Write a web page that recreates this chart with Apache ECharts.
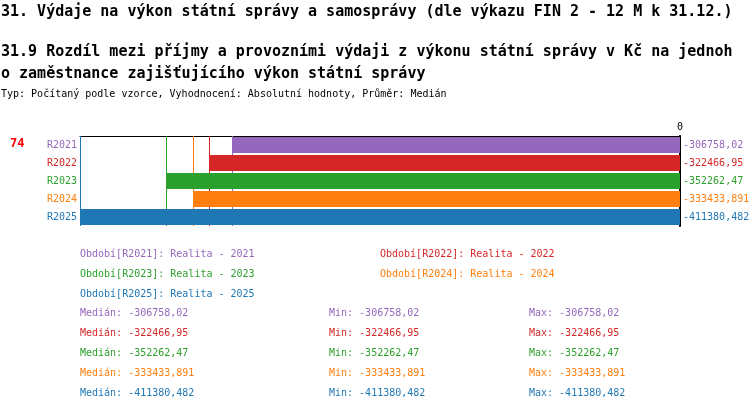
<!DOCTYPE html>
<html>
<head>
<meta charset="utf-8">
<script src="https://cdn.jsdelivr.net/npm/echarts@6/dist/echarts.min.js"></script>
<style>
html,body{margin:0;padding:0;background:#fff;}
#chart{width:750px;height:412px;}
</style>
</head>
<body>
<div id="chart"></div>
<script>
var years = ['R2021', 'R2022', 'R2023', 'R2024', 'R2025'];
var yearNames = ['2021', '2022', '2023', '2024', '2025'];
var values = [-306758.02, -322466.95, -352262.47, -333433.891, -411380.482];
var medians = [-306758.02, -322466.95, -352262.47, -333433.891, -411380.482];
var mins = [-306758.02, -322466.95, -352262.47, -333433.891, -411380.482];
var maxs = [-306758.02, -322466.95, -352262.47, -333433.891, -411380.482];
var colors = ['#9467bd', '#d62728', '#2ca02c', '#ff7f0e', '#1f77b4'];

var FONT = 'DejaVu Sans Mono';

function fmt(v){
	return String(v).replace('.', ',');
}

var chart = echarts.init(document.getElementById('chart'));

var series = [];
var legends = [];
var legendPos = [[75, 248], [375, 248], [75, 268], [375, 268], [75, 288]];
var graphics = [];

for (var i = 0; i < years.length; i++) {
	var d = [];
	for (var j = 0; j < years.length; j++) {
		d.push(i == j ? values[i] : '-');
	}
	series.push({
		name: years[i],
		type: 'bar',
		stack: 'all',
		barWidth: 16,
		z: 2,
		itemStyle: {color: colors[i]},
		label: {
			show: true,
			position: 'right',
			distance: 3,
			color: colors[i],
			fontFamily: FONT,
			fontSize: 10,
			formatter: function(p){ return fmt(p.value); }
		},
		markLine: {
			silent: true,
			z: 1,
			symbol: 'none',
			label: {show: false},
			emphasis: {disabled: true},
			lineStyle: {color: colors[i], type: 'solid', width: 1, opacity: 1},
			data: [{xAxis: values[i]}]
		},
		data: d
	});
	legends.push({
		left: legendPos[i][0],
		top: legendPos[i][1],
		padding: 0,
		itemWidth: 0,
		itemHeight: 0,
		selectedMode: false,
		textStyle: {fontFamily: FONT, fontSize: 10, color: colors[i], lineHeight: 12},
		formatter: (function(k){ return function(name){ return 'Období[' + name + ']: Realita - ' + yearNames[k]; }; })(i),
		data: [{name: years[i], textStyle: {color: colors[i]}}]
	});
	// statistiky
	var y = 314 + i * 20;
	var cols = [[80, 'Medián: ', medians[i]], [329, 'Min: ', mins[i]], [529, 'Max: ', maxs[i]]];
	for (var c = 0; c < cols.length; c++) {
		graphics.push({
			type: 'text',
			left: cols[c][0],
			top: y - 6,
			style: {
				text: cols[c][1] + fmt(cols[c][2]),
				fill: colors[i],
				font: '10px "' + FONT + '"'
			}
		});
	}
}

graphics.push({
	type: 'text',
	left: 10,
	top: 138,
	style: {text: '74', fill: '#ff0000', font: 'bold 12px "' + FONT + '"'}
});

var option = {
	animation: false,
	title: [
		{
			text: '31. Výdaje na výkon státní správy a samosprávy (dle výkazu FIN 2 - 12 M k 31.12.)',
			left: 1, top: 3, padding: 0,
			textStyle: {fontFamily: FONT, fontSize: 15, fontWeight: 'bold', color: '#000', lineHeight: 18}
		},
		{
			text: '31.9 Rozdíl mezi příjmy a provozními výdaji z výkonu státní správy v Kč na jednoh\no zaměstnance zajišťujícího výkon státní správy',
			left: 1, top: 41, padding: 0,
			textStyle: {fontFamily: FONT, fontSize: 15, fontWeight: 'bold', color: '#000', lineHeight: 22}
		},
		{
			text: 'Typ: Počítaný podle vzorce, Vyhodnocení: Absolutní hodnoty, Průměr: Medián',
			left: 1, top: 87, padding: 0,
			textStyle: {fontFamily: FONT, fontSize: 10, fontWeight: 'normal', color: '#000', lineHeight: 14}
		}
	],
	legend: legends,
	grid: {left: 80, right: 70, top: 136, height: 90},
	xAxis: {
		type: 'value',
		position: 'top',
		min: Math.min.apply(null, values),
		max: 0,
		axisLine: {show: true, lineStyle: {color: '#000', width: 1}},
		axisTick: {show: false},
		splitLine: {show: false},
		axisLabel: {
			margin: 4,
			fontFamily: FONT,
			fontSize: 10,
			color: '#000',
			showMinLabel: false,
			formatter: function(v){ return v === 0 ? '0' : ''; }
		}
	},
	yAxis: [
		{
			type: 'category',
			inverse: true,
			position: 'left',
			data: years.map(function(y, k){ return {value: y, textStyle: {color: colors[k]}}; }),
			axisLine: {show: false},
			axisTick: {show: false},
			axisLabel: {margin: 3, fontFamily: FONT, fontSize: 10}
		},
		{
			type: 'category',
			inverse: true,
			position: 'right',
			data: years,
			axisLine: {show: true, onZero: false, lineStyle: {color: '#000', width: 2}},
			axisTick: {show: false},
			axisLabel: {show: false}
		}
	],
	graphic: graphics,
	series: series
};
chart.setOption(option);
</script>
</body>
</html>
